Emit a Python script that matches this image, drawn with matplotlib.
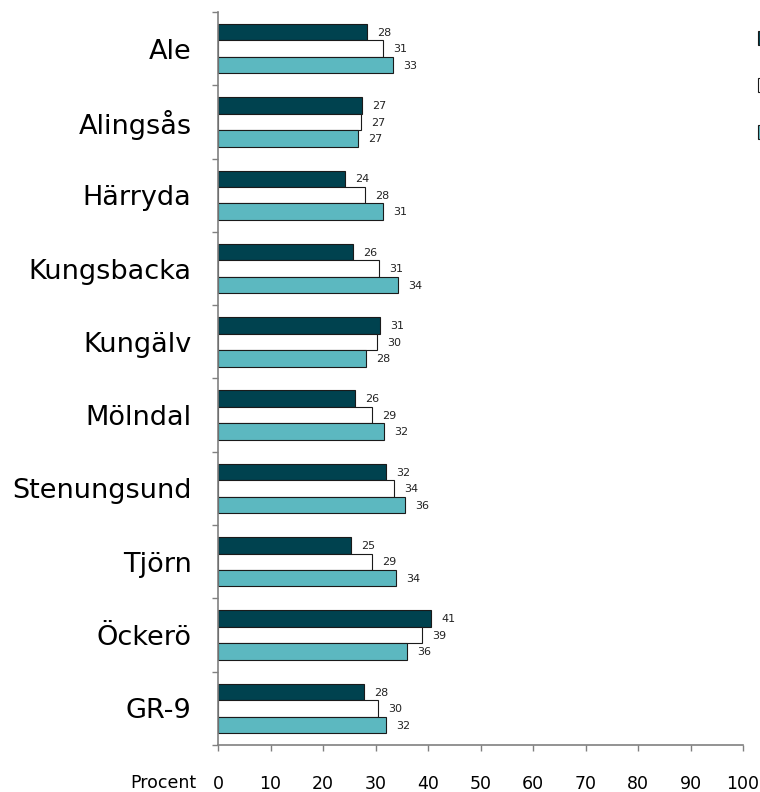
import matplotlib
matplotlib.use("Agg")
import matplotlib.pyplot as plt
import numpy as np
from matplotlib.ticker import FixedLocator

categories = ["Ale", "Alingsås", "Härryda", "Kungsbacka", "Kungälv", "Mölndal",
              "Stenungsund", "Tjörn", "Öckerö", "GR-9"]
series_names = ["2011", "2013", "2015"]
dark_vals = [28.4, 27.4, 24.2, 25.7, 30.9, 26.1, 32.0, 25.3, 40.6, 27.8]
white_vals = [31.4, 27.2, 28.0, 30.7, 30.3, 29.3, 33.5, 29.3, 38.9, 30.5]
teal_vals = [33.3, 26.7, 31.4, 34.3, 28.2, 31.6, 35.6, 33.9, 36.0, 32.0]
xticks = [0, 10, 20, 30, 40, 50, 60, 70, 80, 90, 100]

colors = ["#00424F", "#FFFFFF", "#5CB8C0"]
series = [dark_vals, white_vals, teal_vals]

fig = plt.figure(figsize=(7.6, 7.92), dpi=100)
ax = fig.add_axes([218/760, 1-745/792, (743-218)/760, (745-12)/792])

y = np.arange(len(categories))
h = 0.225
offsets = [-h, 0, h]
for vals, col, off, name in zip(series, colors, offsets, series_names):
    bars = ax.barh(y + off, vals, height=h, color=col, edgecolor="#1a1a1a",
                   linewidth=0.8, label=name)
    for b, v in zip(bars, vals):
        ax.text(v + 1.9, b.get_y() + b.get_height()/2 + 0.01, f"{round(v):d}",
                va="center", ha="left", fontsize=8, color="#222222")

ax.set_ylim(len(categories) - 0.5, -0.5)
ax.set_xlim(0, 100)
ax.set_xticks(xticks)
ax.set_xticklabels([str(t) for t in xticks], fontsize=12.5)
ax.set_yticks(y)
ax.set_yticklabels(categories, fontsize=19.5)
ax.yaxis.set_minor_locator(FixedLocator(np.arange(-0.5, len(categories), 1.0)))
ax.tick_params(axis="y", which="major", length=0, pad=19)
ax.tick_params(axis="y", which="minor", length=4.5, color="#808080", width=1)
ax.tick_params(axis="x", length=4.5, color="#808080", width=1, pad=17)
for s in ["top", "right"]:
    ax.spines[s].set_visible(False)
for s in ["left", "bottom"]:
    ax.spines[s].set_color("#808080")
    ax.spines[s].set_linewidth(1.2)

fig.text(196/760, 1-783/792, "Procent", ha="right", va="center", fontsize=12.5)

fig.legend(loc="upper left", bbox_to_anchor=(758/760, 1-31/792), frameon=False,
           fontsize=11, borderpad=0, borderaxespad=0, labelspacing=2.1,
           handlelength=1.0, handleheight=1.0, handletextpad=1.0)

fig.savefig("out.png", dpi=100)
